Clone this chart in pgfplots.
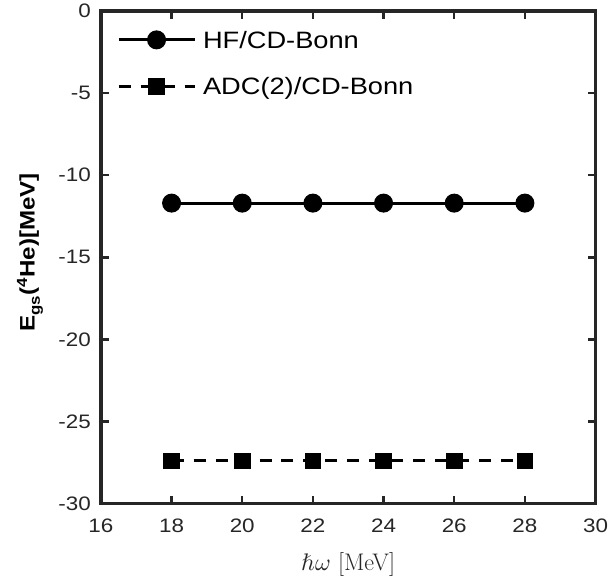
\documentclass[border=0pt]{standalone}
\usepackage{pgfplots}
\pgfplotsset{compat=1.18}
\usepackage{fontspec}
\setmainfont{Liberation Sans}[FakeStretch=1.15]
\newfontfamily\lmr{Latin Modern Roman}
\usepackage{unicode-math}
\setmathfont{Latin Modern Math}
\definecolor{axgray}{RGB}{38,38,38}

\begin{document}
\begin{tikzpicture}
\begin{axis}[
  scale only axis,
  width=495pt, height=493pt,
  xmin=16, xmax=30, ymin=-30, ymax=0,
  xtick={16,18,...,30},
  ytick={-30,-25,...,0},
  separate axis lines,
  every outer x axis line/.append style={line width=3.5pt, axgray, line cap=rect},
  every outer y axis line/.append style={line width=3.5pt, axgray, line cap=rect},
  tick align=inside,
  tick pos=both,
  major tick length=8pt,
  xtick style={line width=2.5pt, axgray},
  ytick style={line width=2.5pt, axgray},
  tick label style={font=\fontsize{19.5}{22}\selectfont, text=axgray},
  xticklabel style={anchor=north, inner sep=0pt, yshift=-15pt},
  yticklabel style={anchor=east, inner sep=0pt, xshift=-10pt},
  /pgf/number format/assume math mode=true,
  xlabel={$\hbar\omega$ {\lmr [MeV]}},
  every axis x label/.style={at={(axis description cs:0.5,0)}, anchor=center, yshift=-61pt, font=\fontsize{24}{26}\selectfont, text=axgray},
  ylabel={\textbf{E\textsubscript{gs}(\textsuperscript{4}He)[MeV]}},
  every axis y label/.style={at={(axis description cs:-0.1434,0.51)}, anchor=center, rotate=90, font=\fontsize{21}{24}\selectfont},
  legend style={draw=none, fill=none, at={(axis description cs:0.0323,0.96)}, anchor=north west,
    inner sep=0pt, nodes={inner sep=0pt, text height=17pt, text depth=0pt}, column sep=7pt, row sep=29pt,
    font=\fontsize{23.7}{26}\selectfont},
  legend cell align=left,
  legend image code/.code={
    \draw[#1] (0pt,0pt) -- (76pt,0pt);
    \draw[#1, solid] plot coordinates {(38pt,0pt)};
  },
]
\addplot[black, line width=3pt, mark=*, mark size=9pt, mark options={line width=1pt}]
  coordinates {(18,-11.7) (20,-11.7) (22,-11.7) (24,-11.7) (26,-11.7) (28,-11.7)};
\addlegendentry{HF/CD-Bonn}
\addplot[black, line width=3pt, dash pattern=on 12pt off 10pt, mark=square*, mark size=7.8pt, mark options={solid, line width=1pt}]
  coordinates {(18,-27.4) (20,-27.4) (22,-27.4) (24,-27.4) (26,-27.4) (28,-27.4)};
\addlegendentry{ADC(2)/CD-Bonn}
\end{axis}
\path (current axis.south west) ++(-101pt,-75pt);
\path (current axis.north east) ++(11pt,11pt);
\end{tikzpicture}
\end{document}
